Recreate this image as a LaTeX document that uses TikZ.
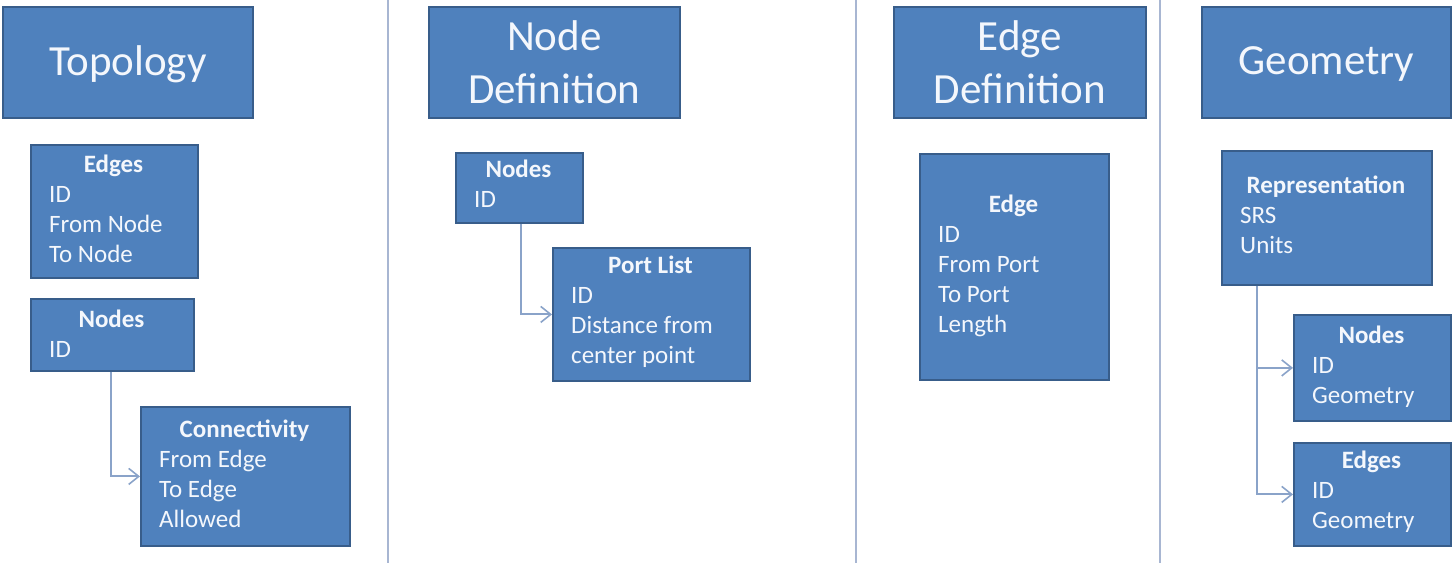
\documentclass[tikz,border=0pt]{standalone}
\usepackage{fontspec}
\setmainfont{Carlito}
\usetikzlibrary{arrows.meta}
\definecolor{boxfill}{HTML}{4F81BD}
\definecolor{boxline}{HTML}{385D8A}
\definecolor{divline}{HTML}{A8B6D2}
\definecolor{connline}{HTML}{8AA3C9}
\definecolor{txt}{HTML}{F4F7FC}
\tikzset{
  ubox/.style={draw=boxline, fill=boxfill, line width=1.8pt, inner sep=0pt, rectangle, anchor=north west},
  titletext/.style={text=txt, align=center, inner sep=0pt, font=\fontsize{43}{52.5}\selectfont},
  hdr/.style={text=txt, inner sep=0pt, anchor=base, font=\fontsize{25}{30}\selectfont\bfseries},
  itm/.style={text=txt, inner sep=0pt, anchor=base west, font=\fontsize{25}{30}\selectfont},
  conn/.style={draw=connline, line width=2pt, -{Straight Barb[length=10pt,width=16pt,line width=1.6pt]}},
  divider/.style={draw=divline, line width=2pt}
}
\begin{document}
\begin{tikzpicture}[x=1pt, y=-1pt]
\useasboundingbox (0,0) rectangle (1454,563);
% dividers
\coordinate (d1t) at (388,0); \coordinate (d1b) at (388,563);
\coordinate (d2t) at (856,0); \coordinate (d2b) at (856,563);
\coordinate (d3t) at (1160,0); \coordinate (d3b) at (1160,563);
\draw[divider] (d1t) -- (d1b);
\draw[divider] (d2t) -- (d2b);
\draw[divider] (d3t) -- (d3b);
% titles
\node[ubox, minimum width=250, minimum height=111] (topo) at (2,6) {};
\node[titletext] (topo-t) at ([yshift=-2pt]topo.center) {Topology};
\node[ubox, minimum width=251, minimum height=111] (nodedef) at (428,6) {};
\node[titletext] (nodedef-t) at (nodedef.center) {Node\\Definition};
\node[ubox, minimum width=252, minimum height=111] (edgedef) at (893,6) {};
\node[titletext] (edgedef-t) at (edgedef.center) {Edge\\Definition};
\node[ubox, minimum width=249, minimum height=111] (geom) at (1201,6) {};
\node[titletext] (geom-t) at ([yshift=-2pt]geom.center) {Geometry};
% topology column
\node[ubox, minimum width=167, minimum height=133] (tedges) at (30,144) {};
\node[hdr] (tedges-h) at (113.5,172) {Edges};
\node[itm] (tedges-1) at (49,202) {ID};
\node[itm] (tedges-2) at (49,232) {From Node};
\node[itm] (tedges-3) at (49,262) {To Node};
\node[ubox, minimum width=163, minimum height=72] (tnodes) at (30,298) {};
\node[hdr] (tnodes-h) at (111.5,327) {Nodes};
\node[itm] (tnodes-1) at (49,357) {ID};
\node[ubox, minimum width=209, minimum height=139] (tconn) at (140,406) {};
\node[hdr] (tconn-h) at (244.5,437) {Connectivity};
\node[itm] (tconn-1) at (159,467) {From Edge};
\node[itm] (tconn-2) at (159,497) {To Edge};
\node[itm] (tconn-3) at (159,527) {Allowed};
% node definition column
\node[ubox, minimum width=127, minimum height=70] (ndnodes) at (455,152) {};
\node[hdr] (ndnodes-h) at (518.5,177) {Nodes};
\node[itm] (ndnodes-1) at (474,207) {ID};
\node[ubox, minimum width=197, minimum height=133] (port) at (552,247) {};
\node[hdr] (port-h) at (650.5,273) {Port List};
\node[itm] (port-1) at (571,303) {ID};
\node[itm] (port-2) at (571,333) {Distance from};
\node[itm] (port-3) at (571,363) {center point};
% edge definition column
\node[ubox, minimum width=189, minimum height=226] (edge) at (919,153) {};
\node[hdr] (edge-h) at (1013.5,212) {Edge};
\node[itm] (edge-1) at (938,242) {ID};
\node[itm] (edge-2) at (938,272) {From Port};
\node[itm] (edge-3) at (938,302) {To Port};
\node[itm] (edge-4) at (938,332) {Length};
% geometry column
\node[ubox, minimum width=210, minimum height=134] (rep) at (1221,150) {};
\node[hdr] (rep-h) at (1326,193) {Representation};
\node[itm] (rep-1) at (1240,223) {SRS};
\node[itm] (rep-2) at (1240,253) {Units};
\node[ubox, minimum width=157, minimum height=106] (gnodes) at (1293,314) {};
\node[hdr] (gnodes-h) at (1371.5,343) {Nodes};
\node[itm] (gnodes-1) at (1312,373) {ID};
\node[itm] (gnodes-2) at (1312,403) {Geometry};
\node[ubox, minimum width=157, minimum height=103] (gedges) at (1293,442) {};
\node[hdr] (gedges-h) at (1371.5,468) {Edges};
\node[itm] (gedges-1) at (1312,498) {ID};
\node[itm] (gedges-2) at (1312,528) {Geometry};
% connectors
\draw[conn] ([xshift=-1.5pt]tnodes.south) |- (tconn.west);
\draw[conn] ([xshift=1.5pt]ndnodes.south) |- (port.west);
\draw[conn] ([xshift=36pt]rep.south west) |- (gnodes.west);
\draw[conn] ([xshift=36pt]rep.south west) |- (gedges.west);
\end{tikzpicture}
\end{document}
